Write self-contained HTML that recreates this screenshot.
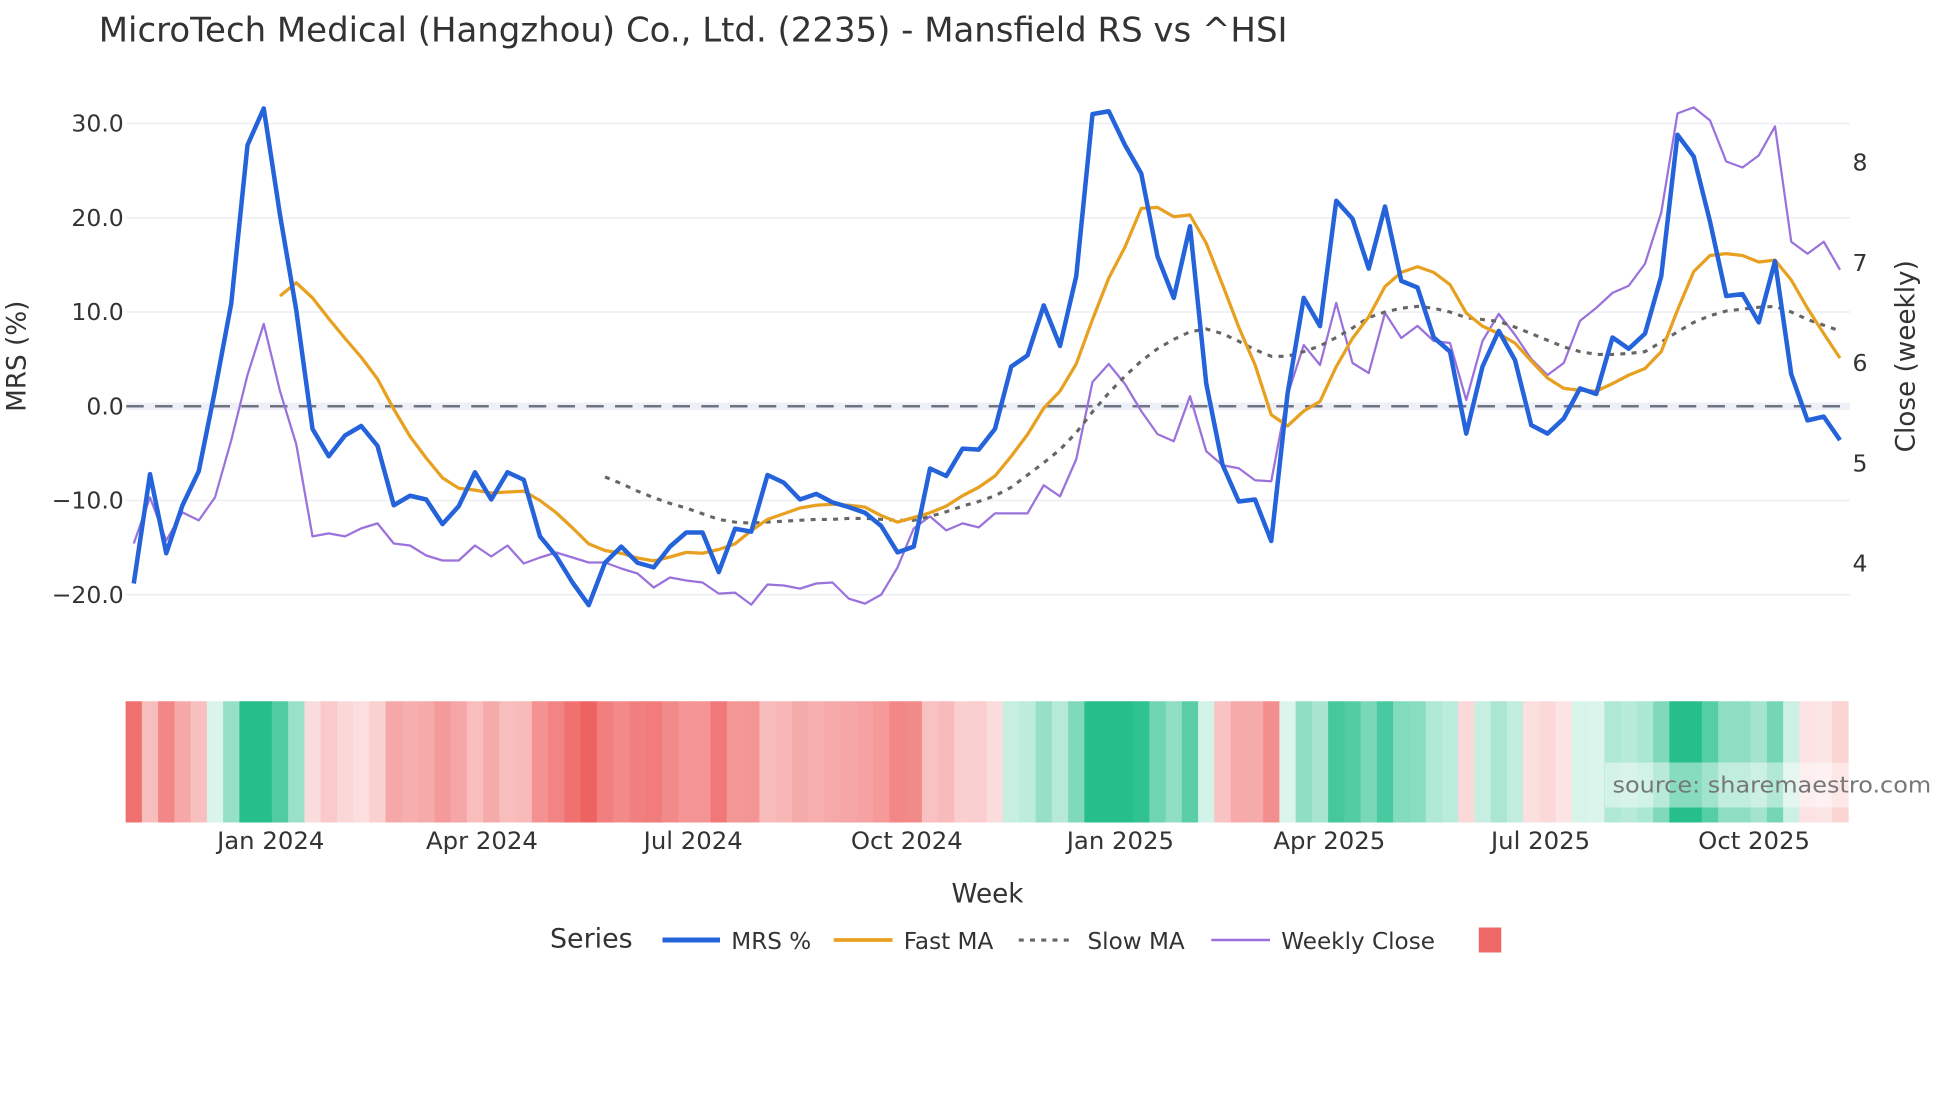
<!DOCTYPE html>
<html><head><meta charset="utf-8"><title>Mansfield RS</title>
<style>
html,body{margin:0;padding:0;background:#fff;}
svg{display:block;font-family:"DejaVu Sans","Liberation Sans",sans-serif;}
</style></head>
<body>
<svg id="chart" width="1960" height="1102" viewBox="0 0 1568 881.6" xmlns="http://www.w3.org/2000/svg">
  <rect x="0" y="0" width="1568" height="881.6" fill="#fff"/>
  <text x="79" y="33" font-size="27" fill="#333" textLength="951" lengthAdjust="spacingAndGlyphs">MicroTech Medical (Hangzhou) Co., Ltd. (2235) - Mansfield RS vs ^HSI</text>
  <g id="grid"></g>
  <g id="heat"></g>
  <g id="series"></g>
  <g id="axes"></g>
  <text x="14" y="285" font-size="21" fill="#333" text-anchor="middle" transform="rotate(-90 14 285)" dominant-baseline="central">MRS (%)</text>
  <text x="1525" y="285" font-size="21" fill="#333" text-anchor="middle" transform="rotate(-90 1525 285)" dominant-baseline="central">Close (weekly)</text>
  <text x="790" y="722" font-size="21" fill="#333" text-anchor="middle">Week</text>
  <g>
    <rect x="1284" y="610" width="262" height="36" fill="#fff" fill-opacity="0.45"/>
    <text x="1290" y="634" font-size="18" fill="#777" textLength="255" lengthAdjust="spacingAndGlyphs">source: sharemaestro.com</text>
  </g>
  <g>
    <text x="440" y="758" font-size="21.5" fill="#333">Series</text>
    <g>
      <line x1="530" y1="752" x2="576" y2="752" stroke="#2563db" stroke-width="4"/>
      <text x="585" y="759" font-size="18.5" fill="#333">MRS %</text>
    </g>
    <g>
      <line x1="667" y1="752" x2="714" y2="752" stroke="#e8a020" stroke-width="3"/>
      <text x="723" y="759" font-size="18.5" fill="#333">Fast MA</text>
    </g>
    <g>
      <line x1="815" y1="752" x2="860" y2="752" stroke="#666" stroke-width="2.5" stroke-dasharray="4,5"/>
      <text x="870" y="759" font-size="18.5" fill="#333">Slow MA</text>
    </g>
    <g>
      <line x1="969" y1="752" x2="1016" y2="752" stroke="#9b72dc" stroke-width="2"/>
      <text x="1025" y="759" font-size="18.5" fill="#333">Weekly Close</text>
    </g>
    <rect x="1183" y="742" width="18" height="20" fill="#ef6868"/>
  </g>
</svg>
<script>
// ---- data (weekly, 106 points) ----
const startDate = "2023-11-03";
const mrs = [-18.8,-7.2,-15.6,-10.5,-6.9,1.7,10.9,27.7,31.6,20.3,10.2,-2.4,-5.3,-3.1,-2.1,-4.2,-10.5,-9.5,-9.9,-12.5,-10.6,-7.0,-9.9,-7.0,-7.8,-13.8,-15.9,-18.7,-21.1,-16.6,-14.9,-16.6,-17.1,-14.9,-13.4,-13.4,-17.6,-13.0,-13.3,-7.3,-8.1,-9.9,-9.3,-10.2,-10.7,-11.3,-12.7,-15.5,-14.9,-6.6,-7.4,-4.5,-4.6,-2.4,4.2,5.4,10.7,6.4,13.8,31.0,31.3,27.7,24.7,15.9,11.5,19.1,2.4,-6.2,-10.1,-9.9,-14.3,1.3,11.5,8.5,21.8,19.9,14.6,21.2,13.3,12.6,7.3,5.8,-2.9,4.2,8.0,4.9,-2.0,-2.9,-1.3,1.9,1.3,7.3,6.1,7.7,13.8,28.8,26.5,19.6,11.7,11.9,8.9,15.4,3.4,-1.5,-1.1,-3.6];
const fastMA = [null,null,null,null,null,null,null,null,null,11.7,13.1,11.5,9.3,7.2,5.2,2.9,-0.3,-3.2,-5.5,-7.6,-8.7,-8.9,-9.2,-9.1,-9.0,-10.0,-11.3,-12.9,-14.6,-15.3,-15.6,-16.1,-16.4,-16.0,-15.5,-15.6,-15.2,-14.6,-13.2,-12.0,-11.4,-10.8,-10.5,-10.4,-10.5,-10.7,-11.6,-12.3,-11.8,-11.3,-10.6,-9.5,-8.6,-7.4,-5.3,-3.0,-0.2,1.6,4.5,9.2,13.6,16.9,21.0,21.1,20.1,20.3,17.3,12.9,8.4,4.4,-0.9,-2.1,-0.5,0.5,4.2,7.2,9.5,12.7,14.2,14.8,14.2,12.9,9.9,8.5,7.7,6.7,4.8,3.0,1.9,1.7,1.6,2.4,3.3,4.0,5.8,10.2,14.3,16.0,16.2,16.0,15.3,15.5,13.4,10.4,7.7,5.1];
const slowMA = [null,null,null,null,null,null,null,null,null,null,null,null,null,null,null,null,null,null,null,null,null,null,null,null,null,null,null,null,null,-7.5,-8.2,-9.0,-9.7,-10.3,-10.8,-11.4,-12.0,-12.3,-12.4,-12.3,-12.2,-12.1,-12.0,-12.0,-11.9,-11.9,-12.0,-12.1,-12.1,-11.7,-11.2,-10.6,-10.1,-9.5,-8.6,-7.3,-6.0,-4.6,-2.8,-0.6,1.4,3.2,4.8,6.1,7.1,7.9,8.2,7.7,6.9,6.0,5.3,5.3,5.8,6.4,7.3,8.3,9.4,10.0,10.4,10.6,10.4,10.0,9.4,9.2,9.0,8.4,7.7,7.0,6.3,5.8,5.5,5.5,5.6,5.8,6.8,7.9,8.9,9.6,10.1,10.3,10.5,10.6,10.0,9.2,8.6,8.0];
const weeklyClose = [4.20,4.66,4.23,4.51,4.43,4.66,5.23,5.88,6.39,5.72,5.19,4.27,4.30,4.27,4.35,4.40,4.20,4.18,4.08,4.03,4.03,4.18,4.07,4.18,4.00,4.06,4.11,4.06,4.01,4.01,3.95,3.90,3.76,3.86,3.83,3.81,3.70,3.71,3.59,3.79,3.78,3.75,3.80,3.81,3.65,3.60,3.69,3.96,4.35,4.47,4.33,4.40,4.36,4.50,4.50,4.50,4.78,4.67,5.04,5.81,5.99,5.79,5.52,5.29,5.22,5.67,5.12,4.98,4.95,4.83,4.82,5.68,6.18,5.98,6.60,6.00,5.90,6.50,6.25,6.37,6.22,6.20,5.63,6.22,6.49,6.28,6.04,5.88,6.00,6.42,6.55,6.70,6.77,6.99,7.50,8.49,8.55,8.42,8.01,7.95,8.07,8.36,7.21,7.09,7.21,6.93];
const leftTicks = [30,20,10,0,-10,-20];
const leftTickLabels = ["30.0","20.0","10.0","0.0","\u221210.0","\u221220.0"];
const rightTicks = [8,7,6,5,4];
const xTickDates = ["2024-01-01","2024-04-01","2024-07-01","2024-10-01","2025-01-01","2025-04-01","2025-07-01","2025-10-01"];
const xTickLabels = ["Jan 2024","Apr 2024","Jul 2024","Oct 2024","Jan 2025","Apr 2025","Jul 2025","Oct 2025"];

// ---- scales ----
const NS="http://www.w3.org/2000/svg";
const PX0=101, PX1=1480;
const DAY=86400000;
const t0=Date.parse(startDate);
const pxPerDay=13/7;
const xDate = d => 107 + (Date.parse(d)-t0)/DAY*pxPerDay;
const xIdx = i => 107 + i*13;
const yL = v => 325 - v*7.54;
const yR = v => 130 + (8-v)*80.2;

function mk(tag, attrs, parent){const e=document.createElementNS(NS,tag);for(const k in attrs)e.setAttribute(k,attrs[k]);parent.appendChild(e);return e;}
const grid=document.getElementById('grid'), axes=document.getElementById('axes'), ser=document.getElementById('series'), heat=document.getElementById('heat');

leftTicks.forEach((v,k)=>{
  if(v!==0){
    const g=mk('line',{x1:PX0,x2:PX1,y1:yL(v),y2:yL(v),stroke:'#eceef3','stroke-width':1.2},grid);
    
    
  }
  const t=mk('text',{x:99,y:yL(v)+6.5,'font-size':18.8,fill:'#333','text-anchor':'end'},axes);
  t.textContent=leftTickLabels[k];
  
  
});
rightTicks.forEach(v=>{
  const t=mk('text',{x:1482,y:yR(v)+6.5,'font-size':18.8,fill:'#333'},axes);
  t.textContent=String(v);
  
  
});
xTickDates.forEach((d,k)=>{
  const t=mk('text',{x:xDate(d),y:679,'font-size':19.5,fill:'#333','text-anchor':'middle'},axes);
  t.textContent=xTickLabels[k];
  
  
});
// zero line
const zb=mk('rect',{x:PX0,y:yL(0)-3,width:PX1-PX0,height:6,fill:'#eef0f7'},grid);


const zl=mk('line',{x1:PX0,x2:PX1,y1:yL(0),y2:yL(0),stroke:'#707482','stroke-width':2,'stroke-dasharray':'14,9'},grid);



// heatmap
function mix(c,t){return 'rgb('+c.map(x=>Math.round(255+(x-255)*t)).join(',')+')';}
mrs.forEach((v,i)=>{
  let fill;
  if(v<0){fill=mix([239,98,98],Math.min(1,0.12+Math.abs(v)/21*0.88));}
  else{fill=mix([38,191,140],Math.min(1,0.12+v/26*0.88));}
  const r=mk('rect',{x:xIdx(i)-6.5,y:561,width:13.4,height:97,fill:fill},heat);
  
  
});

function path(arr, yf){
  let d='',pen=false;
  arr.forEach((v,i)=>{ if(v===null){pen=false;return;} d+=(pen?'L':'M')+xIdx(i).toFixed(1)+','+yf(v).toFixed(1); pen=true;});
  return d;
}
const pc=mk('path',{d:path(weeklyClose,yR),fill:'none',stroke:'#9b72dc','stroke-width':1.8,'stroke-linejoin':'round'},ser);


const ps=mk('path',{d:path(slowMA,yL),fill:'none',stroke:'#666','stroke-width':2.5,'stroke-dasharray':'4,5'},ser);


const pf=mk('path',{d:path(fastMA,yL),fill:'none',stroke:'#e8a020','stroke-width':2.6,'stroke-linejoin':'round'},ser);


const pm=mk('path',{d:path(mrs,yL),fill:'none',stroke:'#2563db','stroke-width':3.6,'stroke-linejoin':'round'},ser);


</script>
</body></html>
